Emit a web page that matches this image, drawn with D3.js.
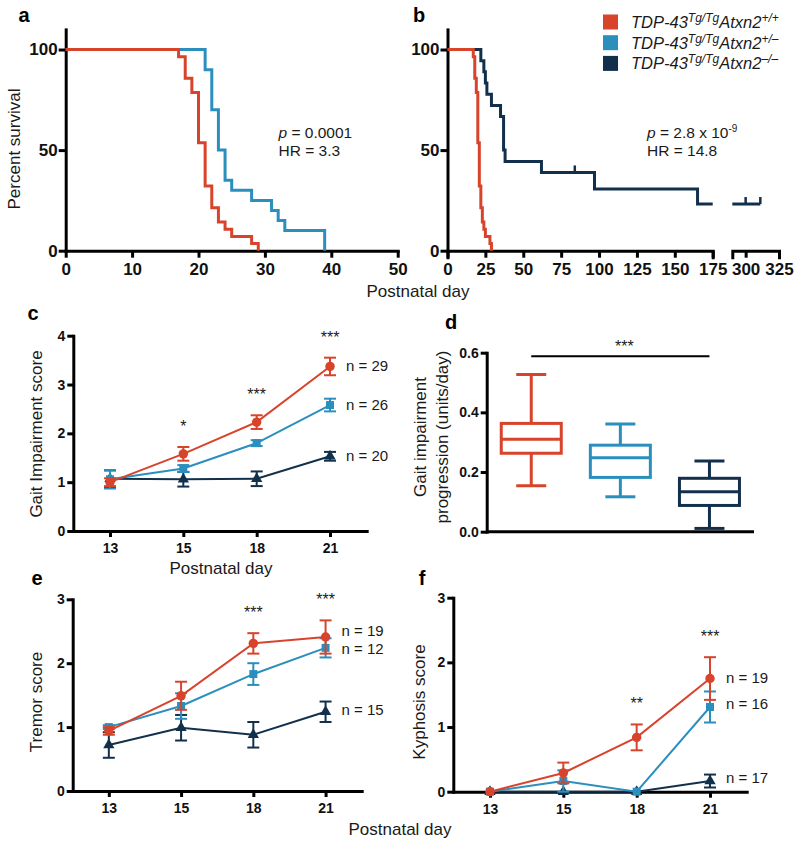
<!DOCTYPE html>
<html>
<head>
<meta charset="utf-8">
<script src="https://cdn.jsdelivr.net/npm/d3@7"></script>
<style>
  body { margin: 0; background: #fff; }
</style>
</head>
<body>
<svg id="fig" width="800" height="847"></svg>
<script>
var FONT = '"Liberation Sans", Arial, Helvetica, sans-serif';
var RED = "#d8432b", BLUE = "#2b8fbe", NAVY = "#12304c";

// a/b survival curves (percent surviving after each step)
var wtDays  = [0, 17, 18, 19, 20, 21, 22, 23, 24, 25, 28, 29];
var wtSurv  = [100, 96.4, 85.7, 78.6, 53.6, 32.1, 21.4, 14.3, 10.7, 7.1, 3.6, 0];
var hetDays = [0, 21, 22, 23, 24, 25, 28, 31, 32, 33, 39];
var hetSurv = [100, 90, 70, 50, 35, 30, 25, 20, 15, 10, 0];
var koDays  = [0, 22, 24, 25, 26, 29, 35, 37, 38, 62, 97, 165, 175];
var koSurv  = [100, 94.4, 88.9, 83.3, 77.8, 72.2, 66.7, 50, 44.4, 38.9, 30.7, 23.2, 23.2];
var koLateDays = [290, 311];
var koLateSurv = [23.2, 23.2];
var koCensorDays = [84, 300, 311];
var koCensorSurv = [38.9, 23.2, 23.2];

// c/e/f scores by postnatal day
var days = ["13", "15", "18", "21"];
var gaitWt  = [1.0, 1.58, 2.23, 3.37],  gaitWtErr  = [0.08, 0.14, 0.14, 0.18];
var gaitHet = [1.06, 1.28, 1.8, 2.58],  gaitHetErr = [0.19, 0.07, 0.06, 0.13];
var gaitKo  = [1.07, 1.06, 1.07, 1.53], gaitKoErr  = [0.17, 0.15, 0.15, 0.09];
var gaitN = [29, 26, 20];
var gaitStars = ["", "*", "***", "***"];

var tremWt  = [0.94, 1.49, 2.31, 2.41], tremWtErr  = [0.06, 0.22, 0.16, 0.26];
var tremHet = [1.0, 1.33, 1.83, 2.24],  tremHetErr = [0.03, 0.2, 0.17, 0.15];
var tremKo  = [0.72, 0.99, 0.88, 1.24], tremKoErr  = [0.2, 0.2, 0.2, 0.16];
var tremN = [19, 12, 15];
var tremStars = ["", "", "***", "***"];

var kyphWt  = [0, 0.29, 0.84, 1.75],  kyphWtErr  = [0, 0.16, 0.2, 0.33];
var kyphHet = [0, 0.165, 0, 1.31],    kyphHetErr = [0, 0.165, 0, 0.24];
var kyphKo  = [0, 0, 0, 0.165],       kyphKoErr  = [0, 0, 0, 0.1];
var kyphN = [19, 16, 17];
var kyphStars = ["", "", "**", "***"];

// d gait progression box plot (units/day)
var boxGroups = ["wt", "het", "ko"];
var boxMin = [0.154, 0.117, 0.011];
var boxQ1  = [0.263, 0.182, 0.088];
var boxMed = [0.31, 0.248, 0.134];
var boxQ3  = [0.363, 0.29, 0.179];
var boxMax = [0.527, 0.361, 0.237];

var svg = d3.select("#fig").attr("font-family", FONT);

function styleAxis(g, size, width) {
  g.attr("font-family", FONT).attr("font-size", size).attr("font-weight", "bold");
  g.select(".domain").attr("stroke-width", width).attr("stroke-linecap", "square");
  g.selectAll(".tick line").attr("stroke-width", width);
  g.selectAll(".tick text").attr("fill", "#111");
}

function text(x, y, s, size, opts) {
  opts = opts || {};
  var t = svg.append("text")
    .attr("x", x).attr("y", y)
    .attr("font-size", size)
    .attr("fill", opts.fill || "#1a1a1a")
    .attr("text-anchor", opts.anchor || "start")
    .text(s);
  if (opts.bold) t.attr("font-weight", "bold");
  return t;
}

function vtext(x, y, s, size) {
  return svg.append("text")
    .attr("transform", "translate(" + x + "," + y + ") rotate(-90)")
    .attr("text-anchor", "middle")
    .attr("font-size", size)
    .attr("fill", "#1a1a1a")
    .text(s);
}

// ---------- panel a ----------
var yA = d3.scaleLinear().domain([0, 110]).range([250.7, 29.4]);
var xA = d3.scaleLinear().domain([0, 50]).range([65.7, 397.7]);

styleAxis(svg.append("g").attr("transform", "translate(0,250.7)")
  .call(d3.axisBottom(xA).tickValues([0, 10, 20, 30, 40, 50]).tickSize(7).tickSizeOuter(0).tickPadding(5)), 17, 3);
styleAxis(svg.append("g").attr("transform", "translate(65.7,0)")
  .call(d3.axisLeft(yA).tickValues([0, 50, 100]).tickSize(7).tickSizeOuter(0).tickPadding(1)), 17, 3);

function km(x, y, dd, ss, color) {
  svg.append("path")
    .datum(d3.zip(dd, ss))
    .attr("fill", "none")
    .attr("stroke", color)
    .attr("stroke-width", 3)
    .attr("d", d3.line().x(function(d) { return x(d[0]); }).y(function(d) { return y(d[1]); }).curve(d3.curveStepAfter));
}

km(xA, yA, hetDays, hetSurv, BLUE);
km(xA, yA, wtDays, wtSurv, RED);

var pA = text(278.5, 137.5, "", 15.5);
pA.append("tspan").attr("font-style", "italic").text("p");
pA.append("tspan").text(" = 0.0001");
text(278.5, 155.5, "HR = 3.3", 15.5);

vtext(19.5, 149, "Percent survival", 17);
text(24, 22, "a", 20, { bold: true, fill: "#000", anchor: "middle" });

// ---------- panel b ----------
var yB = yA.copy();
var xB1 = d3.scaleLinear().domain([0, 175]).range([447.5, 712.7]);
var xB2 = d3.scaleLinear().domain([290, 325]).range([732.3, 779]);

styleAxis(svg.append("g").attr("transform", "translate(0,250.7)")
  .call(d3.axisBottom(xB1).tickValues([0, 25, 50, 75, 100, 125, 150, 175]).tickSize(7).tickSizeOuter(7).tickPadding(5)), 17, 3);
styleAxis(svg.append("g").attr("transform", "translate(0,250.7)")
  .call(d3.axisBottom(xB2).tickValues([300, 325]).tickSize(7).tickSizeOuter(7).tickPadding(5)), 17, 3);
styleAxis(svg.append("g").attr("transform", "translate(447.5,0)")
  .call(d3.axisLeft(yB).tickValues([0, 50, 100]).tickSize(7).tickSizeOuter(0).tickPadding(1)), 17, 3);

km(xB1, yB, koDays, koSurv, NAVY);
km(xB2, yB, koLateDays, koLateSurv, NAVY);
km(xB1, yB, wtDays, wtSurv, RED);

koCensorDays.forEach(function(d, i) {
  var xs = d > 200 ? xB2 : xB1;
  svg.append("line")
    .attr("x1", xs(d)).attr("x2", xs(d))
    .attr("y1", yB(koCensorSurv[i])).attr("y2", yB(koCensorSurv[i]) - 7)
    .attr("stroke", NAVY).attr("stroke-width", 2.5);
});

var pB = text(647, 137.5, "", 15.5);
pB.append("tspan").attr("font-style", "italic").text("p");
pB.append("tspan").text(" = 2.8 x 10");
pB.append("tspan").attr("font-size", 10).attr("dy", -6).text("-9");
text(647, 155.5, "HR = 14.8", 15.5);

text(419, 22, "b", 20, { bold: true, fill: "#000", anchor: "middle" });
text(418, 297, "Postnatal day", 17, { anchor: "middle" });

// legend
var legColors = [RED, BLUE, NAVY];
var legSup = ["+/+", "+/\u2013", "\u2013/\u2013"];
legColors.forEach(function(c, i) {
  var cy = 22 + i * 20.7;
  svg.append("rect").attr("x", 603).attr("y", cy - 7.5).attr("width", 15).attr("height", 15).attr("fill", c);
  var t = svg.append("text").attr("x", 631).attr("y", cy + 6)
    .attr("font-size", 16.5).attr("font-style", "italic").attr("fill", "#1a1a1a");
  t.append("tspan").text("TDP-43");
  t.append("tspan").attr("font-size", 12).attr("dy", -6).text("Tg/Tg");
  t.append("tspan").attr("dy", 6).text("Atxn2");
  t.append("tspan").attr("font-size", 12).attr("dy", -6).text(legSup[i]);
});

// ---------- panels c, e, f ----------
function scorePanel(cfg) {
  var x = d3.scalePoint().domain(days).range([cfg.x0, cfg.x1]).padding(0.5);
  var y = d3.scaleLinear().domain([0, cfg.max]).range([cfg.y0, cfg.y1]);

  styleAxis(svg.append("g").attr("transform", "translate(0," + cfg.y0 + ")")
    .call(d3.axisBottom(x).tickSize(6).tickSizeOuter(0).tickPadding(6)), 14, 3);
  styleAxis(svg.append("g").attr("transform", "translate(" + cfg.x0 + ",0)")
    .call(d3.axisLeft(y).ticks(cfg.max).tickSize(6).tickSizeOuter(0).tickPadding(2)), 14, 3);

  var shapes = [d3.symbolTriangle, d3.symbolSquare, d3.symbolCircle];
  var sizes = [55, 64, 70];
  var colors = [NAVY, BLUE, RED];
  cfg.series.forEach(function(s, k) {
    var pts = days.map(function(d, i) { return { d: d, v: s[0][i], e: s[1][i] }; });
    svg.append("path").datum(pts)
      .attr("fill", "none").attr("stroke", colors[k]).attr("stroke-width", 2)
      .attr("d", d3.line().x(function(p) { return x(p.d); }).y(function(p) { return y(p.v); }));
    pts.forEach(function(p) {
      if (p.e <= 0) return;
      var g = svg.append("g").attr("stroke", colors[k]).attr("stroke-width", 2);
      g.append("line").attr("x1", x(p.d)).attr("x2", x(p.d)).attr("y1", y(p.v - p.e)).attr("y2", y(p.v + p.e));
      [p.v - p.e, p.v + p.e].forEach(function(v) {
        g.append("line").attr("x1", x(p.d) - 6).attr("x2", x(p.d) + 6).attr("y1", y(v)).attr("y2", y(v));
      });
    });
    svg.selectAll(null).data(pts).enter().append("path")
      .attr("transform", function(p) { return "translate(" + x(p.d) + "," + y(p.v) + ")"; })
      .attr("d", d3.symbol().type(shapes[k]).size(sizes[k]))
      .attr("fill", colors[k]);
  });

  // significance stars above the top of the red error bar
  var red = cfg.series[2];
  cfg.stars.forEach(function(s, i) {
    if (!s) return;
    text(x(days[i]), y(red[0][i] + red[1][i]) - 15, s, 16, { anchor: "middle" });
  });

  // n labels, in order red, blue, navy
  [2, 1, 0].forEach(function(k, j) {
    var m = cfg.series[k][0][3];
    text(x("21") + 16, y(m) + 5 + (cfg.nShift ? cfg.nShift[j] : 0), "n = " + cfg.n[j], 15);
  });
  return { x: x, y: y };
}

scorePanel({
  x0: 73.3, x1: 366.7, y0: 531, y1: 335.7, max: 4,
  series: [[gaitKo, gaitKoErr], [gaitHet, gaitHetErr], [gaitWt, gaitWtErr]],
  stars: gaitStars, n: gaitN
});
text(33, 320, "c", 20, { bold: true, fill: "#000", anchor: "middle" });
vtext(42, 434, "Gait Impairment score", 17);
text(221, 574, "Postnatal day", 17, { anchor: "middle" });

scorePanel({
  x0: 72.7, x1: 361.7, y0: 791, y1: 599.3, max: 3,
  series: [[tremKo, tremKoErr], [tremHet, tremHetErr], [tremWt, tremWtErr]],
  stars: tremStars, n: tremN, nShift: [-6, 1, -2]
});
text(37, 585, "e", 20, { bold: true, fill: "#000", anchor: "middle" });
vtext(42, 702, "Tremor score", 17);

scorePanel({
  x0: 453.3, x1: 746.7, y0: 791.7, y1: 597.7, max: 3,
  series: [[kyphKo, kyphKoErr], [kyphHet, kyphHetErr], [kyphWt, kyphWtErr]],
  stars: kyphStars, n: kyphN, nShift: [-1, -3, -3]
});
text(422, 585, "f", 20, { bold: true, fill: "#000", anchor: "middle" });
vtext(425, 702, "Kyphosis score", 17);
text(400, 834.5, "Postnatal day", 17, { anchor: "middle" });

// ---------- panel d ----------
var xD = d3.scalePoint().domain(boxGroups).range([486.7, 754]).padding(0.5);
var yD = d3.scaleLinear().domain([0, 0.6]).range([531.7, 352.7]);

styleAxis(svg.append("g").attr("transform", "translate(486.7,0)")
  .call(d3.axisLeft(yD).tickValues([0, 0.2, 0.4, 0.6]).tickFormat(d3.format(".1f")).tickSize(6).tickSizeOuter(0).tickPadding(2)), 14, 3);
svg.append("line").attr("x1", 486.7).attr("x2", 754).attr("y1", 531.7).attr("y2", 531.7)
  .attr("stroke", "#000").attr("stroke-width", 3);

var boxColors = [RED, BLUE, NAVY];
boxGroups.forEach(function(gname, i) {
  var cx = xD(gname);
  var g = svg.append("g").attr("stroke", boxColors[i]).attr("stroke-width", 3).attr("fill", "none");
  g.append("line").attr("x1", cx).attr("x2", cx).attr("y1", yD(boxMin[i])).attr("y2", yD(boxQ1[i]));
  g.append("line").attr("x1", cx).attr("x2", cx).attr("y1", yD(boxQ3[i])).attr("y2", yD(boxMax[i]));
  [boxMin[i], boxMax[i]].forEach(function(v) {
    g.append("line").attr("x1", cx - 15).attr("x2", cx + 15).attr("y1", yD(v)).attr("y2", yD(v));
  });
  g.append("rect").attr("x", cx - 30).attr("width", 60)
    .attr("y", yD(boxQ3[i])).attr("height", yD(boxQ1[i]) - yD(boxQ3[i]));
  g.append("line").attr("x1", cx - 30).attr("x2", cx + 30).attr("y1", yD(boxMed[i])).attr("y2", yD(boxMed[i]));
});

svg.append("line")
  .attr("x1", xD("wt")).attr("x2", xD("ko"))
  .attr("y1", yD.range()[1] + 3.5).attr("y2", yD.range()[1] + 3.5)
  .attr("stroke", "#000").attr("stroke-width", 2);
text((xD("wt") + xD("ko")) / 2 + 4, 352, "***", 16, { anchor: "middle" });

text(451, 329, "d", 20, { bold: true, fill: "#000", anchor: "middle" });
vtext(426, 437, "Gait impairment", 17);
vtext(447.5, 437, "progression (units/day)", 17);
</script>
</body>
</html>
